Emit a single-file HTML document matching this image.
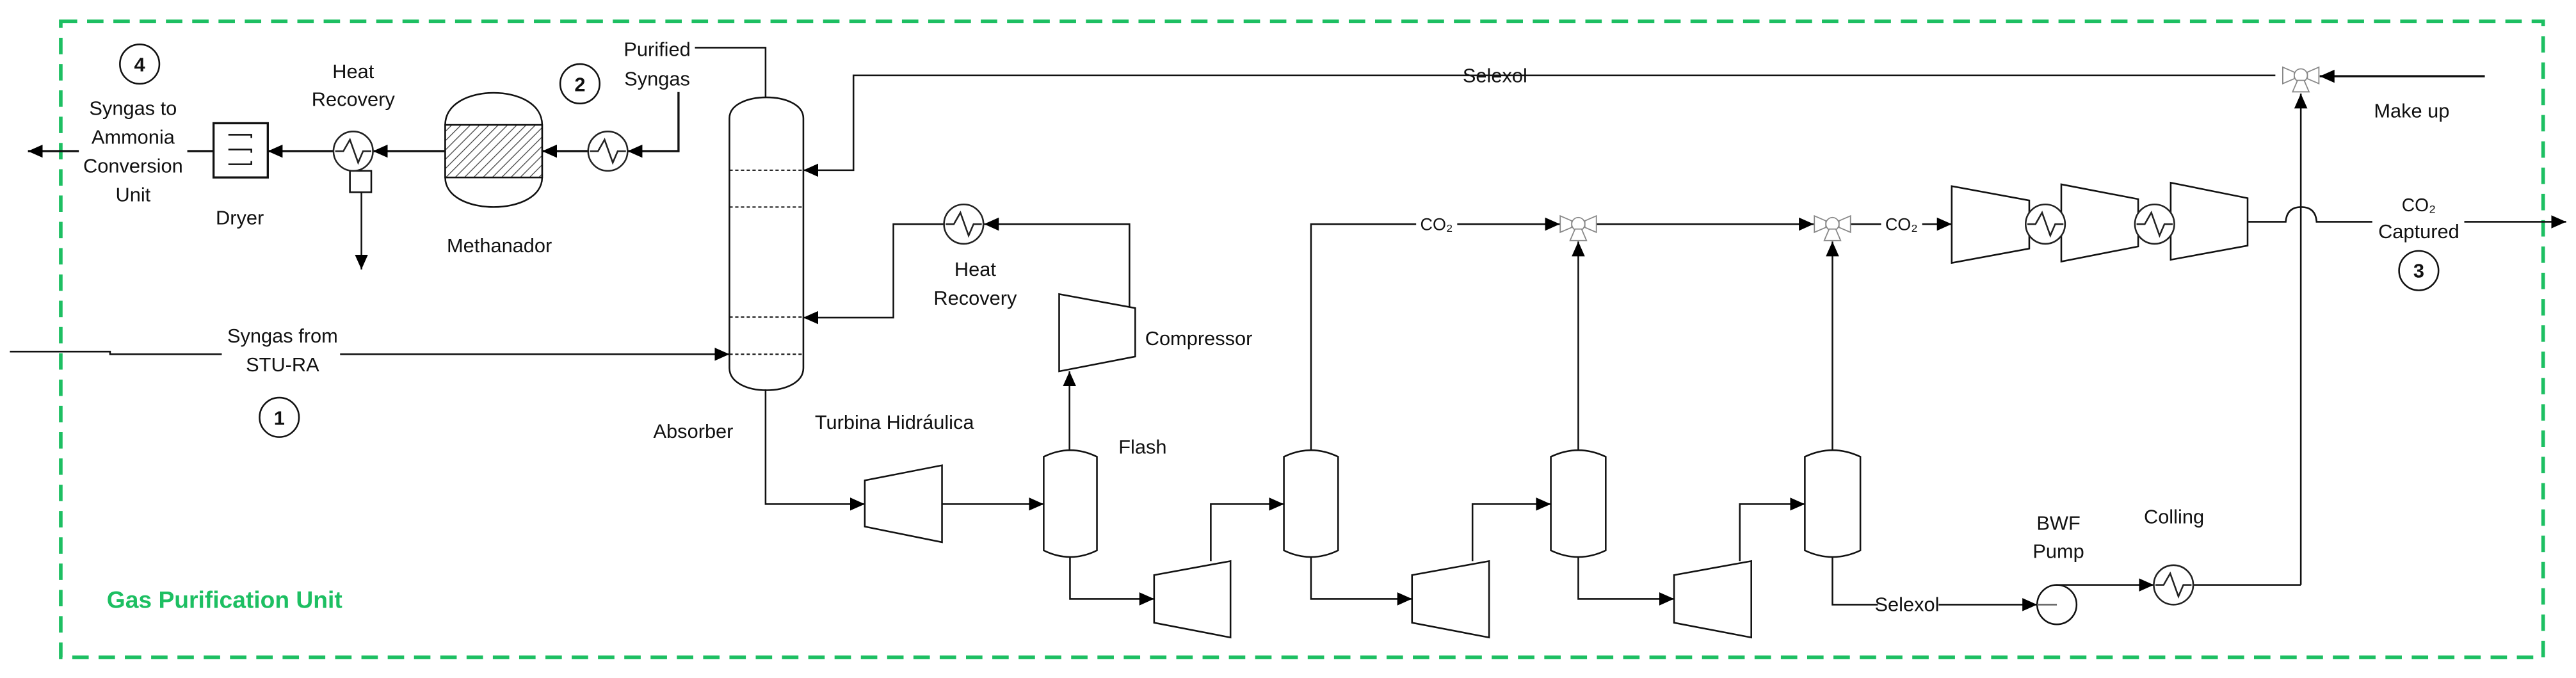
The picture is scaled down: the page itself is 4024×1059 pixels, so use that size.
<!DOCTYPE html>
<html><head><meta charset="utf-8"><style>
html,body{margin:0;padding:0;background:#fff;}
svg{display:block;}
text{font-family:"Liberation Sans",sans-serif;font-size:12px;fill:#111;}
</style></head><body>
<svg width="4024" height="1059" viewBox="0 0 1568 412.65" preserveAspectRatio="none" xmlns="http://www.w3.org/2000/svg">
<defs>
<marker id="a" markerUnits="userSpaceOnUse" markerWidth="10" markerHeight="10" refX="9" refY="5" orient="auto"><path d="M0,1 L9,5 L0,9 Z" fill="#000"/></marker>
<pattern id="h" width="4" height="4" patternUnits="userSpaceOnUse" patternTransform="rotate(45)"><rect width="4" height="4" fill="#fff"/><line x1="0" y1="0" x2="0" y2="4" stroke="#444" stroke-width="1"/></pattern>
<g id="v"><g fill="#fff" stroke="#888" stroke-width="0.7"><path d="M-11,-5 L-4,-2 L-4,2 L-11,5 Z"/><path d="M11,-5 L4,-2 L4,2 L11,5 Z"/><circle cx="0" cy="0" r="4"/><path d="M-2,3 L2,3 L5,10 L-5,10 Z"/></g></g>
<g id="hx"><circle cx="0" cy="0" r="12" fill="#fff" stroke="#222" stroke-width="1"/><path d="M-11,0 L-6,0 L-2,-7 L3,7 L6,0 L11,0" fill="none" stroke="#222" stroke-width="1"/></g>
</defs>
<!-- border -->
<rect x="37" y="13" width="1511" height="387" fill="none" stroke="#1dbf62" stroke-width="2.2" stroke-dasharray="10,6"/>
<text x="65" y="370" style="font-size:14.5px;font-weight:bold;fill:#1dbf62">Gas Purification Unit</text>

<g fill="none" stroke="#111" stroke-width="1">
<!-- left product line -->
<line x1="48" y1="92" x2="17" y2="92" marker-end="url(#a)" stroke-width="1.3"/>
<line x1="114" y1="92" x2="130" y2="92" stroke-width="1.3"/>
<rect x="130" y="75" width="33" height="33" stroke-width="1.3" fill="#fff"/>
<path d="M139,82 H153 V84 M139,91 H153 V93 M139,100 H153 V98"/>
<line x1="203" y1="92" x2="163" y2="92" marker-end="url(#a)" stroke-width="1.3"/>
<line x1="271" y1="92" x2="227" y2="92" marker-end="url(#a)" stroke-width="1.3"/>
<rect x="213" y="104" width="13" height="13" fill="#fff"/>
<line x1="220" y1="117" x2="220" y2="164" marker-end="url(#a)"/>
<!-- methanador -->
<path d="M271,76 C271,50 330,50 330,76 V108 C330,132 271,132 271,108 Z" fill="#fff"/>
<rect x="271" y="76" width="59" height="32" fill="url(#h)"/>
<line x1="358" y1="92" x2="330" y2="92" marker-end="url(#a)" stroke-width="1.3"/>
<path d="M413,56 V92 H382" marker-end="url(#a)" stroke-width="1.3"/>
<path d="M423,29 H466 V59"/>
<!-- absorber -->
<path d="M444,72 C444,55 489,55 489,72 V224 C489,242 444,242 444,224 Z" fill="#fff"/>
<g stroke-dasharray="2,1.5" stroke-width="0.8"><line x1="444" y1="103.6" x2="489" y2="103.6"/><line x1="444" y1="126" x2="489" y2="126"/><line x1="444" y1="193" x2="489" y2="193"/><line x1="444" y1="215.6" x2="489" y2="215.6"/></g>
<path d="M6,214 H67 V215.6 H135"/>
<line x1="207" y1="215.6" x2="444" y2="215.6" marker-end="url(#a)"/>
<!-- selexol top -->
<path d="M1385,45.9 H519.5 V103.6 H489" marker-end="url(#a)"/>
<line x1="1512.5" y1="46.4" x2="1412" y2="46.4" marker-end="url(#a)" stroke-width="1.3"/>
<!-- heat recovery loop -->
<path d="M687.5,187.5 V136.4 H599" marker-end="url(#a)"/>
<path d="M574.6,136.4 H543.8 V193.3 H489" marker-end="url(#a)"/>
<polygon points="644.7,179 691,187.5 691,217 644.7,226" fill="#fff"/>
<line x1="651" y1="274" x2="651" y2="226" marker-end="url(#a)"/>
<!-- absorber bottom to turbine -->
<path d="M466,237 V306.8 H526.4" marker-end="url(#a)"/>
<polygon points="526.4,292.4 573.4,283.2 573.4,330 526.4,320.5" fill="#fff"/>
<line x1="573.4" y1="306.8" x2="635.3" y2="306.8" marker-end="url(#a)"/>
<!-- vessels -->
<g fill="#fff">
<path d="M635.3,278 Q651.5,270 667.7,278 V335 Q651.5,343 635.3,335 Z"/>
<path d="M781.5,278 Q798,270 814.5,278 V335 Q798,343 781.5,335 Z"/>
<path d="M944,278 Q960.7,270 977.4,278 V335 Q960.7,343 944,335 Z"/>
<path d="M1098.6,278 Q1115.5,270 1132.4,278 V335 Q1115.5,343 1098.6,335 Z"/>
</g>
<path d="M651.3,339 V364.5 H702.5" marker-end="url(#a)"/>
<polygon points="702.5,350 749,341.5 749,388 702.5,379" fill="#fff"/>
<path d="M737,341.5 V306.8 H781.5" marker-end="url(#a)"/>
<path d="M798,339 V364.5 H859.5" marker-end="url(#a)"/>
<polygon points="859.5,350 906.4,341.5 906.4,388 859.5,379" fill="#fff"/>
<path d="M896.3,341.5 V306.8 H944" marker-end="url(#a)"/>
<path d="M960.7,339 V364.5 H1019" marker-end="url(#a)"/>
<polygon points="1019,350 1066,341.5 1066,388 1019,379" fill="#fff"/>
<path d="M1059,341.5 V306.8 H1098.6" marker-end="url(#a)"/>
<!-- CO2 lines -->
<path d="M798,274 V136.4 H862"/>
<line x1="887" y1="136.4" x2="949.5" y2="136.4" marker-end="url(#a)"/>
<line x1="960.7" y1="274" x2="960.7" y2="147" marker-end="url(#a)"/>
<line x1="972" y1="136.4" x2="1104" y2="136.4" marker-end="url(#a)"/>
<line x1="1115.4" y1="274" x2="1115.4" y2="147" marker-end="url(#a)"/>
<line x1="1126.5" y1="136.4" x2="1145" y2="136.4"/>
<line x1="1170" y1="136.4" x2="1188" y2="136.4" marker-end="url(#a)"/>
<polygon points="1188,113.3 1235.2,122 1235.2,151.3 1188,160" fill="#fff"/>
<polygon points="1254.7,112.2 1301.5,121.2 1301.5,150 1254.7,159.2" fill="#fff"/>
<polygon points="1321.3,111.2 1368.1,120.6 1368.1,149.5 1321.3,158.1" fill="#fff"/>
<path d="M1368.1,135 H1391.3 Q1392,126 1400.7,126 Q1409.5,126 1410.1,135 H1444"/>
<line x1="1500" y1="135" x2="1562" y2="135" marker-end="url(#a)"/>
<line x1="1400.5" y1="356" x2="1400.5" y2="57" marker-end="url(#a)"/>
<!-- bottom selexol -->
<path d="M1115.4,339 V368 H1143"/>
<line x1="1180" y1="368" x2="1240" y2="368" marker-end="url(#a)"/>
<circle cx="1252" cy="368" r="12" fill="#fff"/>
<line x1="1240" y1="368" x2="1252" y2="368" stroke="#666"/>
<line x1="1251.3" y1="356" x2="1311" y2="356" marker-end="url(#a)"/>
<line x1="1335" y1="356" x2="1400.5" y2="356"/>
<!-- number circles -->
<g stroke-width="1"><circle cx="85" cy="39" r="12" fill="#fff"/><circle cx="353" cy="51" r="12" fill="#fff"/><circle cx="170" cy="254" r="12" fill="#fff"/><circle cx="1472.3" cy="164.7" r="12" fill="#fff"/></g>
</g>
<use href="#hx" x="215" y="92"/>
<use href="#hx" x="370" y="92"/>
<use href="#hx" x="586.6" y="136.4"/>
<use href="#hx" x="1245" y="136.4"/>
<use href="#hx" x="1311.5" y="136.4"/>
<use href="#hx" x="1323" y="356"/>
<use href="#v" x="960.7" y="136.4"/>
<use href="#v" x="1115.4" y="136.4"/>
<use href="#v" x="1400.5" y="45.9"/>

<g text-anchor="middle">
<text x="85" y="43.5" style="font-weight:bold">4</text>
<text x="353" y="55.5" style="font-weight:bold">2</text>
<text x="170" y="258.5" style="font-weight:bold">1</text>
<text x="1472.3" y="169" style="font-weight:bold">3</text>
<text x="81" y="70">Syngas to</text>
<text x="81" y="87.5">Ammonia</text>
<text x="81" y="105">Conversion</text>
<text x="81" y="122.5">Unit</text>
<text x="146" y="136.5">Dryer</text>
<text x="215" y="47.5">Heat</text>
<text x="215" y="64.5">Recovery</text>
<text x="304" y="153.5">Methanador</text>
<text x="400" y="34">Purified</text>
<text x="400" y="52">Syngas</text>
<text x="172" y="208.5">Syngas from</text>
<text x="172" y="226">STU-RA</text>
<text x="422" y="266.5">Absorber</text>
<text x="910" y="50">Selexol</text>
<text x="593.6" y="168">Heat</text>
<text x="593.6" y="185.5">Recovery</text>
<text x="695.5" y="276">Flash</text>
<text x="874.4" y="140" style="font-size:10.5px">CO₂</text>
<text x="1157.4" y="140" style="font-size:10.5px">CO₂</text>
<text x="1472.3" y="128.5" style="font-size:11px">CO₂</text>
<text x="1472.3" y="145">Captured</text>
<text x="1468" y="71.5">Make up</text>
<text x="1160.8" y="372">Selexol</text>
<text x="1253" y="322.5">BWF</text>
<text x="1253" y="339.5">Pump</text>
<text x="1323.3" y="318.5">Colling</text>
</g>
<text x="697" y="210">Compressor</text>
<text x="496" y="261">Turbina Hidráulica</text>
</svg>
</body></html>
